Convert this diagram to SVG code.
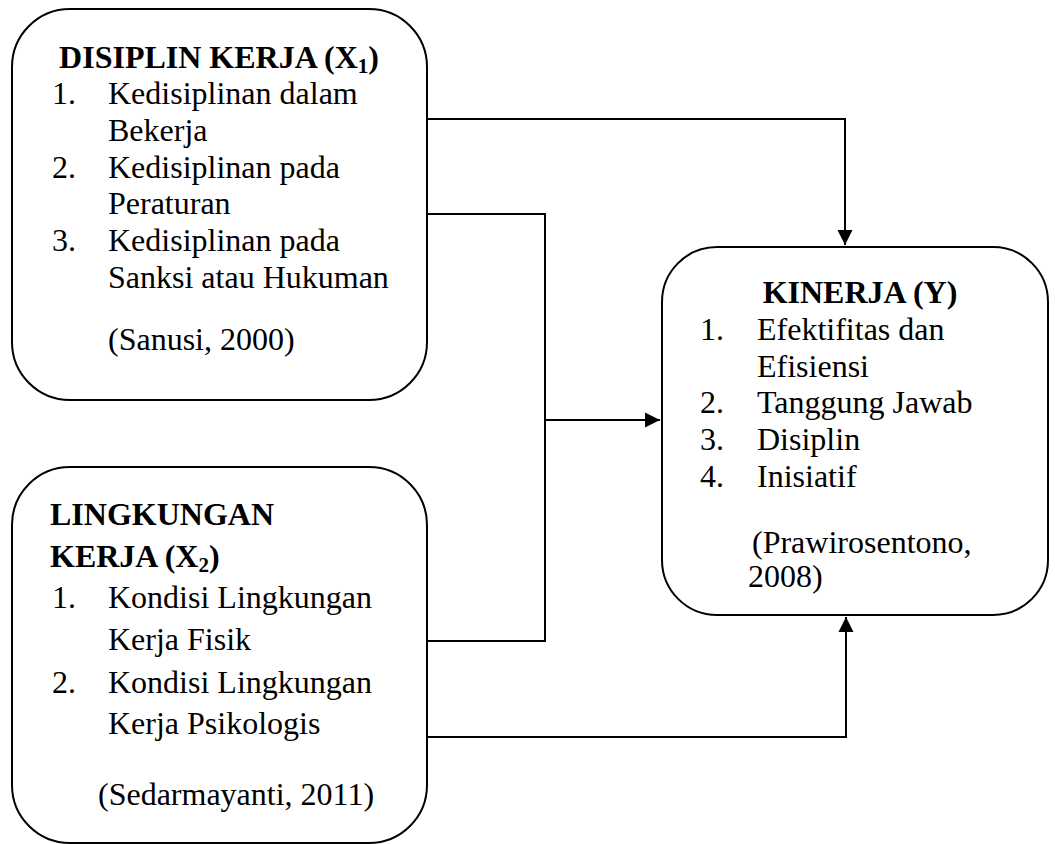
<svg xmlns="http://www.w3.org/2000/svg" width="1055" height="844" viewBox="0 0 1055 844">
<style>
.box{fill:#fff;stroke:#000;stroke-width:2}
.t{font-family:"Liberation Serif","Times New Roman",serif;font-size:32px;fill:#000}
.b{font-weight:bold}
.sub{font-size:21px}
.c{fill:none;stroke:#000;stroke-width:2}
</style>
<defs>
<marker id="arr" markerUnits="userSpaceOnUse" markerWidth="16" markerHeight="16" viewBox="0 0 16 16" refX="15" refY="8" orient="auto">
<path d="M0,0.5 L15,8 L0,15.5 Z" fill="#000"/>
</marker>
</defs>
<rect width="1055" height="844" fill="#fff"/>
<g id="connectors">
<polyline class="c" points="427,119 845,119 845,245" marker-end="url(#arr)"/>
<polyline class="c" points="427,214 545,214 545,420"/>
<polyline class="c" points="427,641 545,641 545,420 660,420" marker-end="url(#arr)"/>
<polyline class="c" points="427,737 846,737 846,617" marker-end="url(#arr)"/>
</g>
<g id="disiplin">
<rect class="box" x="12" y="9" width="415" height="391" rx="58" ry="58"/>
<text class="t b" x="219" y="68" text-anchor="middle">DISIPLIN KERJA (X<tspan class="sub" dy="5">1</tspan><tspan dy="-5">)</tspan></text>
<text class="t" x="52" y="104">1.</text>
<text class="t" x="108" y="104">Kedisiplinan dalam</text>
<text class="t" x="108" y="141">Bekerja</text>
<text class="t" x="52" y="178">2.</text>
<text class="t" x="108" y="178">Kedisiplinan pada</text>
<text class="t" x="108" y="214">Peraturan</text>
<text class="t" x="52" y="251">3.</text>
<text class="t" x="108" y="251">Kedisiplinan pada</text>
<text class="t" x="108" y="288">Sanksi atau Hukuman</text>
<text class="t" x="108" y="350">(Sanusi, 2000)</text>
</g>
<g id="lingkungan">
<rect class="box" x="12" y="467" width="415" height="376" rx="58" ry="58"/>
<text class="t b" x="50" y="525">LINGKUNGAN</text>
<text class="t b" x="50" y="567">KERJA (X<tspan class="sub" dy="5">2</tspan><tspan dy="-5">)</tspan></text>
<text class="t" x="52" y="608">1.</text>
<text class="t" x="108" y="608">Kondisi Lingkungan</text>
<text class="t" x="108" y="650">Kerja Fisik</text>
<text class="t" x="52" y="693">2.</text>
<text class="t" x="108" y="693">Kondisi Lingkungan</text>
<text class="t" x="108" y="734">Kerja Psikologis</text>
<text class="t" x="98" y="805">(Sedarmayanti, 2011)</text>
</g>
<g id="kinerja">
<rect class="box" x="662" y="247" width="386" height="368" rx="55" ry="55"/>
<text class="t b" x="860" y="303" text-anchor="middle">KINERJA (Y)</text>
<text class="t" x="700" y="340">1.</text>
<text class="t" x="757" y="340">Efektifitas dan</text>
<text class="t" x="757" y="377">Efisiensi</text>
<text class="t" x="700" y="413">2.</text>
<text class="t" x="757" y="413">Tanggung Jawab</text>
<text class="t" x="700" y="450">3.</text>
<text class="t" x="757" y="450">Disiplin</text>
<text class="t" x="700" y="487">4.</text>
<text class="t" x="757" y="487">Inisiatif</text>
<text class="t" x="752" y="553">(Prawirosentono,</text>
<text class="t" x="748" y="587">2008)</text>
</g>
</svg>
